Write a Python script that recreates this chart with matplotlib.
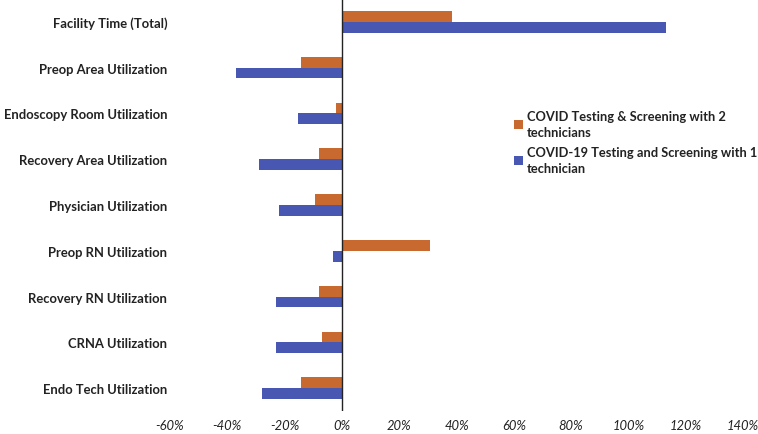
import numpy as np
import matplotlib.pyplot as plt
from matplotlib.ticker import FuncFormatter

categories = ["Facility Time (Total)",
              "Preop Area Utilization",
              "Endoscopy Room Utilization",
              "Recovery Area Utilization",
              "Physician Utilization",
              "Preop RN Utilization",
              "Recovery RN Utilization",
              "CRNA Utilization",
              "Endo Tech Utilization",
              ]

# percent change
two_tech = [38.5, -14.2, -2.0, -7.9, -9.3, 30.8, -7.9, -7.1, -14.2]
one_tech = [113.0, -37.0, -15.2, -28.9, -22.0, -3.0, -23.0, -23.0, -28.0]

labels = ["COVID Testing & Screening with 2\ntechnicians",
          "COVID-19 Testing and Screening with 1\ntechnician"]
colors = ["#C86A30", "#4857B2"]

plt.rcParams['font.family'] = ['Lato', 'DejaVu Sans']

fig = plt.figure(figsize=(7.58, 4.35), dpi=100)
ax = fig.add_axes([170/758, 23/435, 573/758, 412/435])

y = np.arange(len(categories))
h = 0.235
ax.barh(y - h/2, two_tech, height=h, color=colors[0], label=labels[0])
ax.barh(y + h/2, one_tech, height=h, color=colors[1], label=labels[1])

ax.set_ylim(len(categories) - 0.5, -0.5)
ax.set_xlim(-60, 140)
ax.set_xticks(np.arange(-60, 141, 20))
ax.xaxis.set_major_formatter(FuncFormatter(lambda v, p: "%d%%" % v))
ax.set_yticks(y)
ax.set_yticklabels(categories, fontsize=9.4, fontweight='bold', color='#222222')
for t in ax.get_xticklabels():
    t.set_fontstyle('italic')
    t.set_fontsize(9.4)
    t.set_color('#222222')

for s in ["top", "right", "bottom", "left"]:
    ax.spines[s].set_visible(False)
ax.axvline(0, color="#222222", lw=1)
ax.tick_params(axis='both', length=0)
ax.tick_params(axis='y', pad=2)
ax.tick_params(axis='x', pad=6)

leg = fig.legend(loc='upper left', bbox_to_anchor=(502/758, 1 - 99/435),
                 frameon=False, fontsize=9.3, handlelength=0.7, handleheight=0.7,
                 handletextpad=0.35, labelspacing=0.6)
for t in leg.get_texts():
    t.set_color('#222222')
    t.set_fontweight('bold')
    t.set_linespacing(1.45)

fig.savefig("out.png", dpi=100)
